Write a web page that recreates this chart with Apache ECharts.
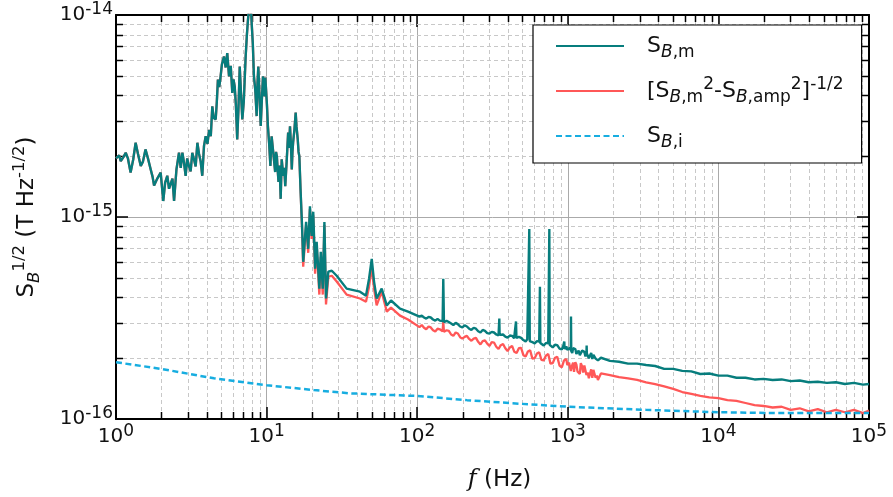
<!DOCTYPE html>
<html>
<head>
<meta charset="utf-8">
<script src="https://cdn.jsdelivr.net/npm/echarts@6/dist/echarts.min.js"></script>
<style>
  html, body { margin: 0; padding: 0; background: #fff; }
  #chart { width: 893px; height: 497px; }
</style>
</head>
<body>
<div id="chart"></div>
<script>
// Magnetic noise spectra: [frequency (Hz), amplitude in units of 1e-15 T/Hz^(1/2)]
const UNIT_EXP = -15;

// Measured spectrum below ~17 Hz (amplifier contribution negligible here)
const sbmLow = [
  [1.00,1.95],[1.02,1.97],[1.05,2.02],[1.075,1.89],[1.12,1.98],[1.16,2.08],[1.20,1.95],[1.25,1.66],
  [1.30,1.92],[1.35,2.33],[1.40,2.05],[1.46,1.79],[1.51,1.88],[1.57,2.16],[1.63,1.95],[1.70,1.72],
  [1.75,1.58],[1.79,1.43],[1.88,1.55],[1.98,1.66],[2.06,1.20],[2.12,1.48],[2.19,1.60],[2.25,1.38],
  [2.31,1.35],[2.37,1.55],[2.43,1.20],[2.52,1.72],[2.62,2.08],[2.69,1.75],[2.76,2.08],[2.83,1.85],
  [2.90,1.60],[2.97,1.95],[3.05,1.79],[3.13,1.68],[3.21,2.08],[3.30,1.92],[3.38,1.78],[3.47,2.33],
  [3.56,2.05],[3.65,1.88],[3.74,1.60],[3.84,2.25],[3.94,2.51],[4.05,2.30],[4.15,2.70],[4.26,2.51],
  [4.36,3.53],[4.45,3.10],[4.59,3.04],[4.67,3.70],[4.75,4.79],[4.85,4.40],[4.95,4.97],[5.05,5.70],
  [5.21,6.23],[5.35,5.50],[5.48,6.47],[5.63,4.97],[5.78,5.60],[5.92,4.11],[6.03,4.80],[6.14,4.43],
  [6.25,3.60],[6.38,2.42],[6.50,3.40],[6.63,5.56],[6.75,4.20],[6.90,3.04],[7.05,3.70],[7.26,6.23],
  [7.40,8.00],[7.52,9.44],[7.64,10.8],[7.76,11.5],[7.88,10.6],[7.96,9.10],[8.10,7.20],[8.24,4.97],
  [8.40,4.30],[8.59,3.16],[8.70,4.60],[8.81,5.56],[8.98,3.90],[9.14,2.82],[9.30,3.80],[9.46,4.97],
  [9.60,4.20],[9.71,3.96],[9.81,4.90],[9.91,4.79],[10.05,3.60],[10.2,2.82],[10.4,2.30],[10.6,1.79],
  [10.7,2.20],[10.8,2.51],[11.1,2.05],[11.4,1.67],[11.55,2.10],[11.7,2.00],[11.85,1.70],[12.0,1.49],
  [12.2,1.80],[12.4,1.23],[12.6,1.93],[12.9,1.60],[13.1,1.75],[13.3,1.42],[13.6,1.90],[13.9,2.62],
  [14.1,2.20],[14.3,2.81],[14.5,2.30],[14.7,1.72],[14.85,2.10],[15.0,2.34],[15.3,2.70],[15.6,3.29],
  [15.8,2.80],[16.1,2.42],[16.3,2.10],[16.5,2.00],[16.8,1.37]
];

// Measured spectrum S_B,m above ~17 Hz
const sbmHigh = [
  [17.2,0.90],[17.5,0.60],[18.3,0.945],[18.9,0.696],[19.4,1.13],[19.9,0.806],[20.4,1.06],[21.0,0.555],
  [21.5,0.753],[22.4,0.442],[22.9,0.673],[23.6,0.442],[24.2,0.945],[24.8,0.395],[25.7,0.536],[27.1,0.542],
  [29.2,0.512],[34.0,0.442],[41.7,0.427],[45.7,0.408],[47.9,0.495],[49.9,0.621],[51.7,0.479],[53.8,0.395],
  [58.1,0.442],[62.8,0.365],[67.0,0.386],[76.9,0.352],[86.9,0.340],
  [100,0.325],[103.5,0.321],[107.2,0.325],[111,0.318],[114.8,0.314],[119,0.320],[123.0,0.318],
  [127.4,0.311],[131.8,0.307],[136.5,0.313],[141.3,0.307],[147.5,0.305],[149,0.495],[150.5,0.302],
  [151.4,0.300],[156.7,0.306],[162.2,0.302],[168,0.297],[173.8,0.292],[180,0.299],[186.2,0.295],
  [192.8,0.287],[199.5,0.284],[206.5,0.291],[213.8,0.287],[221.3,0.280],[229.1,0.276],[237.2,0.283],
  [245.5,0.280],[254.1,0.272],[263.0,0.268],[272.2,0.276],[281.8,0.273],[291.7,0.266],[302.0,0.265],
  [312.6,0.270],[323.6,0.268],[335.0,0.262],[346.7,0.259],[349.5,0.262],[351,0.314],[352.5,0.261],
  [360,0.264],[371.5,0.262],[384.6,0.256],[398.1,0.253],[412.1,0.259],[426.6,0.258],[440,0.251],
  [450,0.254],[453,0.304],[456,0.252],[457.1,0.250],[473.2,0.255],[489.8,0.252],[507.0,0.246],
  [524.8,0.242],[538,0.248],[551,0.245],[555,0.873],[559,0.243],[562.3,0.248],[582.0,0.240],
  [602.6,0.237],[623.8,0.243],[645.7,0.242],[649,0.240],[653,0.452],[657,0.238],[670,0.235],
  [691.8,0.231],[716.1,0.238],[741.3,0.237],[750,0.234],[754,0.873],[758,0.233],[775,0.229],
  [794.3,0.226],[822.2,0.233],[851.1,0.232],[881.0,0.223],[912.0,0.221],[930,0.228],[944,0.224],
  [948,0.242],[952,0.222],[977.2,0.229],[993,0.220],[1010,0.216],[1030,0.225],[1047,0.219],
  [1050,0.322],[1054,0.217],[1070,0.212],[1085,0.224],[1100,0.220],[1122,0.222],[1140,0.210],
  [1160,0.212],[1180,0.218],[1202,0.207],[1220,0.206],[1245,0.218],[1265,0.214],[1288,0.215],
  [1310,0.204],[1330,0.212],[1334,0.231],[1338,0.211],[1355,0.211],[1380,0.200],[1405,0.206],
  [1430,0.212],[1455,0.198],[1479,0.208],[1505,0.207],[1530,0.199],[1560,0.199],[1585,0.195],
  [1660,0.201],[1905,0.194],[2188,0.192],[2512,0.188],[2884,0.188],[3311,0.185],[3802,0.183],
  [4365,0.177],[5012,0.177],[5754,0.173],[6607,0.172],[7586,0.167],[8710,0.168],[10000,0.164],
  [11482,0.164],[13183,0.160],[15136,0.160],[17378,0.157],[19953,0.158],[22909,0.156],[26303,0.157],
  [30200,0.154],[34674,0.155],[39811,0.152],[45709,0.153],[52481,0.151],[60256,0.152],[69183,0.149],
  [79433,0.151],[91201,0.148],[100000,0.149]
];

// Amplifier-corrected spectrum [S_B,m^2 - S_B,amp^2]^(1/2) above ~17 Hz
const sbCorrHigh = [
  [17.2,0.873],[17.5,0.567],[18.3,0.913],[18.9,0.665],[19.4,1.095],[19.9,0.779],[20.4,1.02],[21.0,0.524],
  [21.5,0.728],[22.4,0.413],[22.9,0.635],[23.6,0.413],[24.2,0.913],[24.8,0.369],[25.7,0.506],[27.1,0.512],
  [29.2,0.479],[34.0,0.413],[41.7,0.395],[45.7,0.381],[47.9,0.452],[49.9,0.567],[51.7,0.442],[53.8,0.365],
  [58.1,0.427],[62.8,0.340],[67.0,0.356],[76.9,0.325],[86.9,0.311],
  [100,0.290],[103.5,0.285],[107.2,0.292],[111,0.283],[114.8,0.278],[119,0.287],[123.0,0.284],
  [127.4,0.275],[131.8,0.271],[136.5,0.280],[141.3,0.278],[147.5,0.272],[149,0.304],[150.5,0.270],
  [151.4,0.265],[156.7,0.275],[162.2,0.273],[168,0.262],[173.8,0.258],[180,0.268],[186.2,0.265],
  [192.8,0.254],[199.5,0.250],[206.5,0.255],[213.8,0.258],[221.3,0.249],[229.1,0.244],[237.2,0.250],
  [245.5,0.252],[254.1,0.241],[263.0,0.234],[272.2,0.243],[281.8,0.245],[291.7,0.236],[302.0,0.230],
  [312.6,0.240],[323.6,0.239],[335.0,0.228],[346.7,0.222],[358.9,0.232],[371.5,0.235],[384.6,0.224],
  [398.1,0.217],[412.1,0.226],[426.6,0.230],[441.6,0.215],[457.1,0.212],[473.2,0.224],[489.8,0.225],
  [507.0,0.207],[524.8,0.204],[543.3,0.216],[562.3,0.219],[582.0,0.199],[602.6,0.200],[623.8,0.211],
  [645.7,0.214],[668.3,0.196],[691.8,0.195],[716.1,0.206],[741.3,0.210],[767.4,0.188],[794.3,0.189],
  [822.2,0.201],[851.1,0.203],[881.0,0.184],[912.0,0.180],[944,0.195],[977.2,0.198],[993,0.185],
  [1010,0.182],[1020,0.190],[1047,0.173],[1065,0.183],[1085,0.190],[1100,0.171],[1122,0.191],
  [1140,0.186],[1160,0.172],[1180,0.175],[1202,0.167],[1220,0.189],[1245,0.182],[1265,0.170],
  [1288,0.184],[1310,0.180],[1330,0.165],[1355,0.170],[1380,0.159],[1405,0.168],[1430,0.176],
  [1455,0.160],[1479,0.175],[1505,0.172],[1530,0.160],[1560,0.164],[1585,0.156],
  [1660,0.168],[1905,0.165],[2188,0.161],[2512,0.159],[2884,0.156],[3311,0.152],[3802,0.149],
  [4365,0.145],[5012,0.141],[5754,0.136],[6607,0.133],[7586,0.130],[8710,0.128],[10000,0.127],
  [11482,0.124],[13183,0.123],[15136,0.120],[17378,0.117],[19953,0.116],[22909,0.114],[26303,0.115],
  [30200,0.111],[34674,0.113],[39811,0.109],[45709,0.112],[52481,0.108],[60256,0.111],[69183,0.108],
  [79433,0.111],[91201,0.107],[100000,0.110]
];

// Intrinsic sensor noise S_B,i
const sbIntrinsic = [
  [1,0.191],[2,0.177],[4.47,0.159],[10,0.147],[20.6,0.139],[35.8,0.134],[100,0.130],[214,0.124],
  [480,0.119],[1000,0.115],[3300,0.111],[10000,0.108],[25000,0.107],[100000,0.107]
];

// Axis decades and minor tick multipliers
const xDecades = [1, 10, 100, 1000, 10000, 100000];
const yDecades = [0.1, 1, 10];
const minorSteps = [2, 3, 4, 5, 6, 7, 8, 9];

const FONT = 'DejaVu Sans';
const TEXT = '#111';
const TEAL = '#077d7d';
const RED = '#ff5757';
const BLUE = '#17ade0';

const minorX = [];
xDecades.slice(0, -1).forEach(d => minorSteps.forEach(k => minorX.push(d * k)));
const minorY = [];
yDecades.slice(0, -1).forEach(d => minorSteps.forEach(k => minorY.push(d * k)));

// rich-text script styles (superscript / subscript / italic subscript)
const script = (size, align, italic) => ({
  fontFamily: FONT, fontSize: size, lineHeight: size, verticalAlign: align,
  fontStyle: italic ? 'italic' : 'normal', color: TEXT
});

const legendText = {
  sbm: 'S{bi|B}{s|,m}',
  corr: '[S{bi|B}{s|,m}{p|2}-S{bi|B}{s|,amp}{p|2}]{p|-1/2}',
  intr: 'S{bi|B}{s|,i}'
};

const decadeLabel = (v, shift) =>
  '10{p|' + (Math.round(Math.log10(v)) + shift) + '}';

const axisCommon = {
  type: 'log',
  logBase: 10,
  axisLine: { show: true, onZero: false, lineStyle: { color: '#000', width: 2 } },
  axisTick: { show: true, inside: true, length: 12, lineStyle: { color: '#000', width: 1.5 } },
  minorTick: { show: false },
  minorSplitLine: { show: false }
};

const chart = echarts.init(document.getElementById('chart'), null, { renderer: 'canvas' });

chart.setOption({
  animation: false,
  backgroundColor: '#fff',
  grid: { left: 116, right: 24, top: 15, bottom: 76, containLabel: false },
  xAxis: [
    Object.assign({}, axisCommon, {
      position: 'bottom', min: 1, max: 1e5,
      splitLine: { show: true, lineStyle: { color: '#aaa', width: 1 } },
      axisLabel: {
        margin: 4, fontFamily: FONT, fontSize: 20, lineHeight: 28, color: TEXT,
        formatter: v => decadeLabel(v, 0), rich: { p: script(17, 'top') }
      },
      name: '{fi|f} (Hz)', nameLocation: 'middle', nameGap: 49,
      nameTextStyle: {
        fontFamily: FONT, fontSize: 23, color: TEXT, padding: [0, 0, 0, 14],
        rich: { fi: { fontFamily: 'DejaVu Serif', fontStyle: 'italic', fontSize: 24, color: TEXT } }
      }
    }),
    Object.assign({}, axisCommon, {
      position: 'top', min: 1, max: 1e5,
      splitLine: { show: false }, axisLabel: { show: false }
    })
  ],
  yAxis: [
    Object.assign({}, axisCommon, {
      position: 'left', min: 0.1, max: 10,
      splitLine: { show: true, lineStyle: { color: '#aaa', width: 1 } },
      axisLabel: {
        margin: 3, fontFamily: FONT, fontSize: 20, lineHeight: 28, color: TEXT,
        formatter: v => decadeLabel(v, UNIT_EXP), rich: { p: script(17, 'top') }
      },
      name: 'S{bi|B}{p|1/2} (T Hz{p|-1/2})', nameLocation: 'middle', nameRotate: 90, nameGap: 73,
      nameTextStyle: {
        fontFamily: FONT, fontSize: 23, lineHeight: 32, color: TEXT,
        rich: { bi: script(16.5, 'bottom', true), p: script(16.5, 'top') }
      }
    }),
    Object.assign({}, axisCommon, {
      position: 'right', min: 0.1, max: 10,
      splitLine: { show: false }, axisLabel: { show: false }
    })
  ],
  legend: {
    data: ['sbm', 'corr', 'intr'],
    orient: 'vertical',
    left: 533, top: 25,
    padding: [6, 18, 12, 22],
    itemGap: 15,
    itemWidth: 68, itemHeight: 14,
    selectedMode: false,
    backgroundColor: '#fff',
    borderColor: '#000', borderWidth: 1.2, borderRadius: 0,
    itemStyle: { color: 'rgba(0,0,0,0)', borderColor: 'rgba(0,0,0,0)', borderWidth: 0, opacity: 0 },
    formatter: name => legendText[name],
    textStyle: {
      fontFamily: FONT, fontSize: 22, lineHeight: 30, color: TEXT,
      padding: [0, 0, 0, 18],
      rich: { bi: script(17, 'bottom', true), s: script(17, 'bottom'), p: script(17, 'top') }
    }
  },
  series: [
    {
      // minor (2..9 per decade) grid lines and ticks on all four sides
      type: 'custom', name: 'minorTicks', silent: true, z: 1, clip: false,
      data: minorX.map(v => [v, 1]).concat(minorY.map(v => [1, v])),
      renderItem(params, api) {
        const cs = params.coordSys;
        const p = api.coord([api.value(0), api.value(1)]);
        const gridStyle = { stroke: '#c8c8c8', lineWidth: 1, lineDash: [4, 3] };
        const tickStyle = { stroke: '#000', lineWidth: 1.5 };
        const L = 7;
        if (params.dataIndex < minorX.length) {
          const x = Math.round(p[0]) + 0.5;
          const y0 = cs.y, y1 = cs.y + cs.height;
          return { type: 'group', children: [
            { type: 'line', shape: { x1: x, y1: y0, x2: x, y2: y1 }, style: gridStyle },
            { type: 'line', shape: { x1: x, y1: y1, x2: x, y2: y1 - L }, style: tickStyle },
            { type: 'line', shape: { x1: x, y1: y0, x2: x, y2: y0 + L }, style: tickStyle }
          ] };
        }
        const y = Math.round(p[1]) + 0.5;
        const x0 = cs.x, x1 = cs.x + cs.width;
        return { type: 'group', children: [
          { type: 'line', shape: { x1: x0, y1: y, x2: x1, y2: y }, style: gridStyle },
          { type: 'line', shape: { x1: x0, y1: y, x2: x0 + L, y2: y }, style: tickStyle },
          { type: 'line', shape: { x1: x1, y1: y, x2: x1 - L, y2: y }, style: tickStyle }
        ] };
      }
    },
    {
      name: 'corr', type: 'line', symbol: 'none', z: 3,
      data: sbmLow.concat(sbCorrHigh),
      lineStyle: { color: RED, width: 2.3 }, itemStyle: { color: RED }
    },
    {
      name: 'sbm', type: 'line', symbol: 'none', z: 4,
      data: sbmLow.concat(sbmHigh),
      lineStyle: { color: TEAL, width: 2.4 }, itemStyle: { color: TEAL }
    },
    {
      name: 'intr', type: 'line', symbol: 'none', z: 5,
      data: sbIntrinsic,
      lineStyle: { color: BLUE, width: 2.5, type: [6, 3.5] }, itemStyle: { color: BLUE }
    }
  ]
});
</script>
</body>
</html>
